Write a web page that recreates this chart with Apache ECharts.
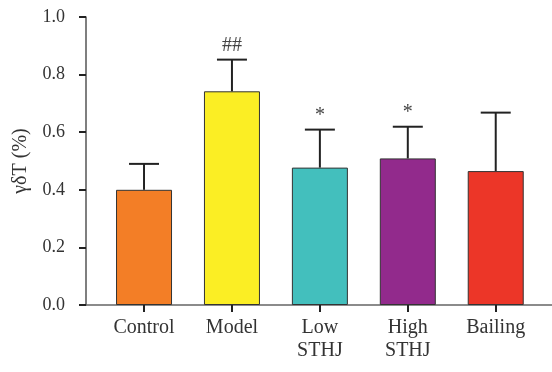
<!DOCTYPE html>
<html>
<head>
<meta charset="utf-8">
<script src="https://cdn.jsdelivr.net/npm/echarts@6/dist/echarts.min.js"></script>
<style>
  html, body { margin: 0; padding: 0; background: #fff; }
  #main { width: 552px; height: 372px; }
</style>
</head>
<body>
<div id="main"></div>
<script>
// 数据
var groups = ['Control', 'Model', 'Low\nSTHJ', 'High\nSTHJ', 'Bailing'];
var means = [0.40, 0.742, 0.477, 0.509, 0.465];
var errUpper = [0.49, 0.852, 0.609, 0.619, 0.668];
var marks = ['', '##', '*', '*', ''];
var barColors = ['#F37E26', '#FBEE24', '#43BFBD', '#922A8C', '#EC3628'];

var font = 'Liberation Serif';

var barData = means.map(function (v, i) {
  return { value: [i, v], itemStyle: { color: barColors[i] } };
});
var errData = means.map(function (v, i) {
  return [i, v, errUpper[i]];
});

var myChart = echarts.init(document.getElementById('main'));
myChart.setOption({
  animation: false,
  backgroundColor: '#fff',
  grid: { left: 86, right: 0, top: 17, bottom: 67 },
  xAxis: {
    type: 'value',
    min: -0.66,
    max: 4.64,
    splitLine: { show: false },
    axisLine: { show: true, onZero: false, lineStyle: { color: '#666', width: 1.5 } },
    axisTick: {
      show: true,
      length: 7,
      customValues: [0, 1, 2, 3, 4],
      lineStyle: { color: '#222', width: 2 }
    },
    axisLabel: {
      customValues: [0, 1, 2, 3, 4],
      margin: 11,
      fontFamily: font,
      fontSize: 20,
      lineHeight: 23,
      color: '#333',
      formatter: function (v) { return groups[v]; }
    }
  },
  yAxis: {
    type: 'value',
    min: 0,
    max: 1.0,
    interval: 0.2,
    name: 'γδT (%)',
    nameLocation: 'middle',
    nameGap: 55,
    nameTextStyle: { fontFamily: font, fontSize: 20, color: '#333' },
    splitLine: { show: false },
    axisLine: { show: true, onZero: false, lineStyle: { color: '#555', width: 1.5 } },
    axisTick: { show: true, length: 7, lineStyle: { color: '#222', width: 2 } },
    axisLabel: {
      margin: 21,
      fontFamily: font,
      fontSize: 18,
      color: '#333',
      formatter: function (v) { return v.toFixed(1); }
    }
  },
  series: [
    {
      type: 'bar',
      barWidth: 56,
      data: barData,
      itemStyle: { borderColor: '#333', borderWidth: 1 }
    },
    {
      type: 'custom',
      data: errData,
      z: 3,
      renderItem: function (params, api) {
        var i = api.value(0);
        var top = api.coord([i, api.value(1)]);
        var hi = api.coord([i, api.value(2)]);
        var cap = 15;
        var children = [
          { type: 'line', shape: { x1: top[0], y1: top[1], x2: hi[0], y2: hi[1] },
            style: { stroke: '#222', lineWidth: 2 } },
          { type: 'line', shape: { x1: hi[0] - cap, y1: hi[1], x2: hi[0] + cap, y2: hi[1] },
            style: { stroke: '#222', lineWidth: 2 } }
        ];
        if (marks[params.dataIndex]) {
          children.push({
            type: 'text',
            x: hi[0],
            y: hi[1] - 4,
            style: {
              text: marks[params.dataIndex],
              textAlign: 'center',
              textVerticalAlign: 'bottom',
              fontFamily: font,
              fontSize: 20,
              fill: '#444'
            }
          });
        }
        return { type: 'group', children: children };
      }
    }
  ]
});
</script>
</body>
</html>
